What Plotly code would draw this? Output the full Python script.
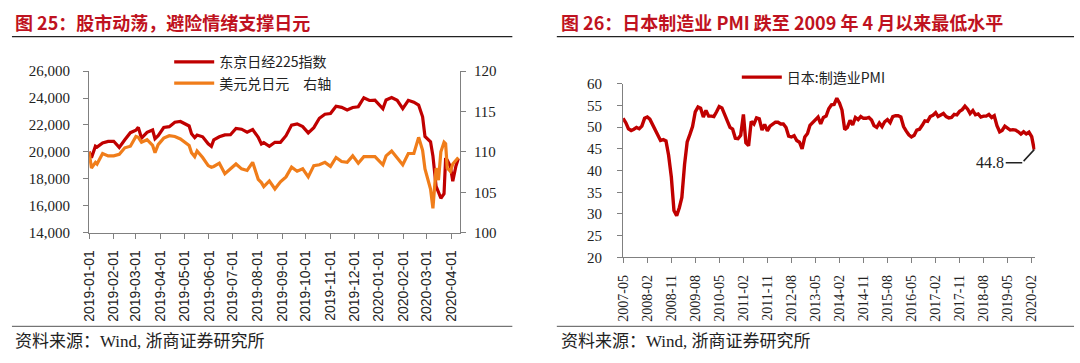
import plotly.graph_objects as go

# ---------------- data: left chart (weekly readings) ----------------
nk_dates = [
    "2019-01-01", "2019-01-04", "2019-01-09", "2019-01-11", "2019-01-18", "2019-01-25",
    "2019-02-01", "2019-02-08", "2019-02-15", "2019-02-22", "2019-03-01", "2019-03-04",
    "2019-03-08", "2019-03-15", "2019-03-22", "2019-03-25", "2019-03-29", "2019-04-05",
    "2019-04-12", "2019-04-19", "2019-04-26", "2019-05-07", "2019-05-10", "2019-05-14",
    "2019-05-17", "2019-05-24", "2019-05-31", "2019-06-04", "2019-06-07", "2019-06-14",
    "2019-06-21", "2019-06-28", "2019-07-05", "2019-07-12", "2019-07-19", "2019-07-26",
    "2019-08-02", "2019-08-06", "2019-08-09", "2019-08-16", "2019-08-23", "2019-08-30",
    "2019-09-06", "2019-09-13", "2019-09-20", "2019-09-27", "2019-10-04", "2019-10-11",
    "2019-10-18", "2019-10-25", "2019-11-01", "2019-11-08", "2019-11-15", "2019-11-22",
    "2019-11-29", "2019-12-06", "2019-12-13", "2019-12-20", "2019-12-27", "2020-01-06",
    "2020-01-10", "2020-01-17", "2020-01-24", "2020-01-31", "2020-02-07", "2020-02-14",
    "2020-02-20", "2020-02-25", "2020-02-28", "2020-03-06", "2020-03-09", "2020-03-13",
    "2020-03-16", "2020-03-19", "2020-03-23", "2020-03-25", "2020-03-27", "2020-03-31",
    "2020-04-03", "2020-04-07", "2020-04-10",
]
nikkei225 = [
    20015, 19561, 20427, 20359, 20666, 20774,
    20788, 20333, 20900, 21425, 21602, 21822,
    21025, 21450, 21627, 20977, 21205, 21807,
    21870, 22200, 22258, 21923, 21344, 21067,
    21250, 21117, 20601, 20408, 20884, 21116,
    21258, 21275, 21746, 21685, 21466, 21658,
    21087, 20585, 20684, 20418, 20711, 20704,
    21199, 21988, 22079, 21879, 21410, 21799,
    22493, 22799, 22851, 23392, 23303, 23113,
    23294, 23354, 24023, 23816, 23838, 23204,
    23850, 24041, 23827, 23205, 23828, 23688,
    23479, 22605, 21143, 20750, 19698, 17431,
    17002, 16553, 16887, 19546, 19389, 18917,
    17820, 18950, 19498,
]
usdjpy = [
    110.0, 108.0, 108.7, 108.5, 109.8, 109.5,
    109.5, 109.7, 110.5, 110.7, 111.9, 111.8,
    111.2, 111.5, 110.8, 109.9, 110.9, 111.7,
    112.0, 111.9, 111.6, 110.8, 109.9, 109.4,
    110.1, 109.3, 108.3, 108.1, 108.2, 108.6,
    107.3, 107.9, 108.5, 107.9, 107.7, 108.7,
    106.6, 106.2, 105.7, 106.4, 105.4, 106.3,
    106.9, 108.1, 107.6, 107.9, 106.9, 108.3,
    108.4, 108.7, 108.2, 109.3, 108.8, 108.7,
    109.5, 108.6, 109.4, 109.4, 109.4, 108.4,
    109.5, 110.1, 109.3, 108.4, 109.8, 109.8,
    111.8, 110.2, 107.9, 105.4, 103.0, 108.0,
    106.5, 110.0, 111.2, 111.0, 108.0, 107.6,
    108.5, 109.0, 109.3,
]
left_ticks = [
    "2019-01-01", "2019-02-01", "2019-03-01", "2019-04-01", "2019-05-01", "2019-06-01",
    "2019-07-01", "2019-08-01", "2019-09-01", "2019-10-01", "2019-11-01", "2019-12-01",
    "2020-01-01", "2020-02-01", "2020-03-01", "2020-04-01",
]

# ---------------- data: right chart (monthly PMI, 2007-05 .. 2020-03) ----------------
pmi_values = [
    52.0, 51.0, 49.6, 49.2, 49.5, 49.9, 49.6, 50.2,            # 2007-05..2007-12
    52.0, 52.3, 51.8, 50.6, 49.3, 48.3, 46.9, 47.1, 46.8, 43.5, 38.5, 30.8,  # 2008
    29.6, 31.5, 33.8, 41.4, 46.6, 48.3, 50.1, 53.5, 54.6, 54.3, 52.3, 53.8,  # 2009
    52.5, 52.5, 52.4, 53.5, 54.7, 54.4, 53.0, 51.4, 49.9, 49.5, 47.4, 47.3,  # 2010
    48.1, 52.9, 46.4, 45.7, 51.3, 50.7, 52.1, 51.9, 49.3, 50.6, 49.1, 50.2,  # 2011
    50.7, 51.1, 51.1, 50.7, 50.7, 49.9, 47.9, 47.7, 48.0, 46.9, 46.5, 45.0,  # 2012
    47.7, 48.5, 50.4, 51.1, 51.5, 52.3, 50.7, 52.2, 52.5, 54.2, 55.1, 55.2,  # 2013
    56.6, 55.5, 53.9, 49.4, 49.9, 51.5, 50.5, 52.2, 51.7, 52.4, 52.0, 52.0,  # 2014
    52.2, 51.6, 50.3, 49.9, 50.9, 50.1, 51.2, 51.7, 51.0, 52.4, 52.6, 52.6,  # 2015
    52.3, 50.1, 49.1, 48.2, 47.7, 48.1, 49.3, 49.5, 50.4, 51.4, 51.3, 52.4,  # 2016
    52.7, 53.3, 52.4, 52.7, 53.1, 52.4, 52.1, 52.2, 52.9, 52.8, 53.6, 54.0,  # 2017
    54.8, 54.1, 53.1, 53.8, 52.8, 53.0, 52.3, 52.5, 52.5, 52.9, 52.2, 52.6,  # 2018
    50.3, 48.9, 49.2, 50.2, 49.8, 49.3, 49.4, 49.3, 48.9, 48.4, 48.9, 48.4,  # 2019
    48.8, 47.8, 44.8,                                          # 2020-01..03
]
pmi_dates = []
_y, _m = 2007, 5
for _ in pmi_values:
    pmi_dates.append(f"{_y}-{_m:02d}-01")
    _m += 1
    if _m > 12:
        _m = 1
        _y += 1

# ---------------- texts ----------------
title_left = "图 25：股市动荡，避险情绪支撑日元"
title_right = "图 26：日本制造业 PMI 跌至 2009 年 4 月以来最低水平"
source_text = "资料来源：Wind, 浙商证券研究所"
name_nk = "东京日经225指数"
name_fx = "美元兑日元　右轴"
name_pmi = "日本:制造业PMI"

# ---------------- styles ----------------
W, H = 1080, 363
def fx(p):
    return p / W
def fy(p):
    return 1 - p / H

RED = "#C00000"
ORANGE = "#F07D1A"
TITLE_RED = "#BF1220"
AXIS = "#808080"
SERIF = "Liberation Serif, Times New Roman, serif"
SANS = "Liberation Sans, Arial, sans-serif"
CJK = "Noto Sans CJK SC, sans-serif"
SRC_FONT = "Liberation Serif, Noto Sans CJK SC, serif"

fig = go.Figure()
fig.add_trace(go.Scatter(x=nk_dates, y=nikkei225, name=name_nk, mode="lines",
                         line=dict(color=RED, width=3.2), xaxis="x", yaxis="y",
                         legend="legend"))
fig.add_trace(go.Scatter(x=nk_dates, y=usdjpy, name=name_fx, mode="lines",
                         line=dict(color=ORANGE, width=3.2), xaxis="x", yaxis="y2",
                         legend="legend"))
fig.add_trace(go.Scatter(x=pmi_dates, y=pmi_values, name=name_pmi, mode="lines",
                         line=dict(color=RED, width=3.4), xaxis="x2", yaxis="y3",
                         legend="legend2"))

common_axis = dict(showgrid=False, zeroline=False, showline=True, linecolor=AXIS,
                   linewidth=1, ticks="outside", tickcolor=AXIS, ticklen=5, tickwidth=1)

fig.update_layout(
    width=W, height=H, autosize=False,
    margin=dict(l=0, r=0, t=0, b=0),
    paper_bgcolor="white", plot_bgcolor="white",
    showlegend=True,
    xaxis=dict(domain=[fx(82), fx(457)], anchor="y", type="date",
               range=["2019-01-01", "2020-04-12"], tickvals=left_ticks,
               tickformat="%Y-%m-%d", tickangle=-90, ticklabelstandoff=6,
               tickfont=dict(family=SANS, size=14, color="#222"), **common_axis),
    yaxis=dict(domain=[fy(235), fy(66)], anchor="x", range=[14000, 26000], dtick=2000,
               tickformat=",", ticklabelstandoff=10,
               tickfont=dict(family=SERIF, size=15, color="#222"), **common_axis),
    yaxis2=dict(overlaying="y", side="right", anchor="x", range=[100, 120], dtick=5,
                ticklabelstandoff=5,
                tickfont=dict(family=SERIF, size=15, color="#222"), **common_axis),
    xaxis2=dict(domain=[fx(622), fx(1039)], anchor="y3", type="date",
                range=["2007-05-01", "2020-03-15"], tick0="2007-05-01", dtick="M9",
                tickformat="%Y-%m", tickangle=-90, ticklabelstandoff=6,
                tickfont=dict(family=SERIF, size=14, color="#222"), **common_axis),
    yaxis3=dict(domain=[fy(261), fy(79)], anchor="x2", range=[20, 60], dtick=5,
                ticklabelstandoff=12,
                tickfont=dict(family=SERIF, size=15, color="#222"), **common_axis),
    legend=dict(x=fx(163), y=fy(40), xanchor="left", yanchor="top", itemwidth=40,
                bgcolor="rgba(0,0,0,0)", borderwidth=0, tracegroupgap=0,
                font=dict(family=CJK, size=14, color="#222")),
    legend2=dict(x=fx(737), y=fy(56), xanchor="left", yanchor="top", itemwidth=40,
                 bgcolor="rgba(0,0,0,0)", borderwidth=0,
                 font=dict(family=CJK, size=14, color="#222")),
)

# titles and sources
for txt, xp in [(title_left, 5), (title_right, 557)]:
    fig.add_annotation(text=f"<b>{txt}</b>", xref="paper", yref="paper", x=fx(xp), y=fy(15),
                       xanchor="left", yanchor="middle", showarrow=False,
                       font=dict(family=CJK, size=18, color=TITLE_RED))
for xp in [5, 557]:
    fig.add_annotation(text=source_text, xref="paper", yref="paper", x=fx(xp), y=fy(349),
                       xanchor="left", yanchor="middle", showarrow=False,
                       font=dict(family=SRC_FONT, size=17, color="#222"))

# separator lines
for x0, x1 in [(4, 510), (555, 1078)]:
    fig.add_shape(type="line", xref="paper", yref="paper", x0=fx(x0), x1=fx(x1),
                  y0=fy(30), y1=fy(30), line=dict(color="#222", width=1.2))
    fig.add_shape(type="line", xref="paper", yref="paper", x0=fx(x0), x1=fx(x1),
                  y0=fy(333), y1=fy(333), line=dict(color="#555", width=1))

# 44.8 callout with elbow leader
fig.add_annotation(x=pmi_dates[-1], y=pmi_values[-1], xref="x2", yref="y3", text="",
                   showarrow=True, arrowhead=0, arrowwidth=1.5, arrowcolor="#222",
                   ax=-12, ay=13)
fig.add_annotation(x=pmi_dates[-1], y=pmi_values[-1], xref="x2", yref="y3",
                   text=f"{pmi_values[-1]:.1f}", xshift=-12, yshift=-13,
                   showarrow=True, arrowhead=0, arrowwidth=1.5, arrowcolor="#222",
                   ax=-32, ay=0, font=dict(family=SERIF, size=16, color="#222"))

fig.write_html("out.html", config={"displayModeBar": False},
               post_script="document.body.style.margin='0px';")
